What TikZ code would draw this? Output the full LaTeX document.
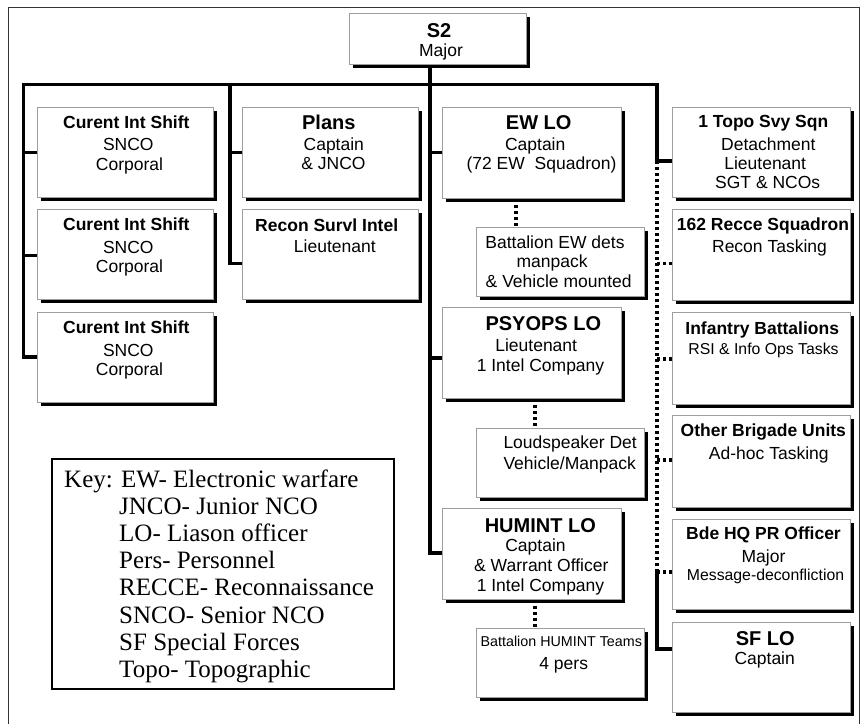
\documentclass[tikz,border=0pt]{standalone}
\usepackage{fontspec}
\setmainfont{Liberation Serif}
\newfontfamily\arialf{Liberation Sans}
\usetikzlibrary{shadows}
\pgfdeclarelayer{bg}
\pgfsetlayers{bg,main}
\begin{document}
\begin{tikzpicture}[x=1pt,y=-1pt,
  orgbox/.style={draw=black!38, line width=1pt, fill=white, inner sep=0pt, anchor=north west,
    drop shadow={shadow xshift=3pt,shadow yshift=-3pt,fill=black,opacity=1}},
  wide/.style={minimum width=176pt, minimum height=90pt},
  mid/.style={minimum width=179pt, minimum height=91pt},
  small/.style={minimum width=168pt, minimum height=69pt},
  conn/.style={line width=3.5pt, line join=miter, black},
  dotc/.style={line width=3.5pt, dash pattern=on 3pt off 3pt, black},
  tl/.style={anchor=base, inner sep=0pt, font=\arialf\fontsize{17.5}{19}\selectfont},
  tb/.style={anchor=base, inner sep=0pt, font=\arialf\bfseries\fontsize{17.5}{19}\selectfont},
  tB/.style={anchor=base, inner sep=0pt, font=\arialf\bfseries\fontsize{20}{22}\selectfont},
  ts/.style={anchor=base, inner sep=0pt, font=\arialf\fontsize{15.8}{17}\selectfont},
  tx/.style={anchor=base, inner sep=0pt, font=\arialf\fontsize{14.3}{16}\selectfont},
  keyt/.style={anchor=base west, inner sep=0pt, font=\fontsize{25}{27}\selectfont},
  frame/.style={draw=black!80, line width=1.5pt}
]
\useasboundingbox (0,0) rectangle (861,724);
\draw[frame] (8.5,724) -- (8.5,7.5) -- (859.5,7.5) -- (859.5,724);

% boxes
\node[orgbox, minimum width=177pt, minimum height=51pt] (s2) at (349,13) {};
\node[orgbox, wide] (cis1) at (37,107) {};
\node[orgbox, wide] (cis2) at (37,209) {};
\node[orgbox, wide] (cis3) at (37,312) {};
\node[orgbox, wide] (plans) at (242,107) {};
\node[orgbox, wide] (recon) at (242,209) {};
\node[orgbox, mid] (ewlo) at (442,107) {};
\node[orgbox, small] (batew) at (476,227) {};
\node[orgbox, mid] (psyops) at (442,307) {};
\node[orgbox, small] (loud) at (476,428) {};
\node[orgbox, mid] (humint) at (442,508) {};
\node[orgbox, small] (bathum) at (476,628) {};
\node[orgbox, minimum width=178pt, minimum height=90pt] (topo) at (672,107) {};
\node[orgbox, minimum width=178pt, minimum height=91pt] (recce) at (672,209) {};
\node[orgbox, minimum width=178pt, minimum height=92pt] (infantry) at (672,312) {};
\node[orgbox, minimum width=178pt, minimum height=92pt] (other) at (672,415) {};
\node[orgbox, minimum width=178pt, minimum height=90pt] (bdehq) at (672,519) {};
\node[orgbox, minimum width=178pt, minimum height=90pt] (sflo) at (672,622) {};
\node[draw=black, line width=2pt, inner sep=0pt, anchor=north west,
  minimum width=342pt, minimum height=230pt] (key) at (51,458) {};

% texts
\node[tB] (s2a) at (439,37) {S2};
\node[tl] (s2b) at (441,56.8) {Major};

\node[tb] (c1a) at (126.3,128) {Curent Int Shift};
\node[tl] (c1b) at (128.3,150.6) {SNCO};
\node[tl] (c1c) at (129.5,170) {Corporal};
\node[tb] (c2a) at (126.3,230.5) {Curent Int Shift};
\node[tl] (c2b) at (128.3,253) {SNCO};
\node[tl] (c2c) at (129.5,272.6) {Corporal};
\node[tb] (c3a) at (126.3,333.8) {Curent Int Shift};
\node[tl] (c3b) at (128.3,356) {SNCO};
\node[tl] (c3c) at (129.5,375.6) {Corporal};

\node[tB] (pla) at (328.8,129.7) {Plans};
\node[tl] (plb) at (333.8,150.4) {Captain};
\node[tl] (plc) at (333.5,169.4) {\& JNCO};
\node[tb] (rea) at (326.7,231.1) {Recon Survl Intel};
\node[tl] (reb) at (334.8,252.8) {Lieutenant};

\node[tB] (ewa) at (538.7,129.7) {EW LO};
\node[tl] (ewb) at (535.2,150.4) {Captain};
\node[tl] (ewc) at (541.5,169.4) {(72 EW\ \ Squadron)};
\node[tl] (bea) at (555,248.8) {Battalion EW dets};
\node[tl] (beb) at (552,267.8) {manpack};
\node[tl] (bec) at (558.7,287.1) {\& Vehicle mounted};

\node[tB] (psa) at (543.3,330.3) {PSYOPS LO};
\node[tl] (psb) at (536.2,351.8) {Lieutenant};
\node[tl] (psc) at (540.5,371.1) {1 Intel Company};
\node[tl, anchor=base west] (lda) at (503.3,448.8) {Loudspeaker Det};
\node[tl, anchor=base west] (ldb) at (503.3,469.4) {Vehicle/Manpack};

\node[tB] (hua) at (540.3,532) {HUMINT LO};
\node[tl] (hub) at (535.5,551.8) {Captain};
\node[tl] (huc) at (541.3,571.8) {\& Warrant Officer};
\node[tl] (hud) at (540.5,591.8) {1 Intel Company};
\node[tx] (bha) at (561.3,646.7) {Battalion HUMINT Teams};
\node[tl] (bhb) at (563.7,669.4) {4 pers};

\node[tb] (toa) at (763.3,127.8) {1 Topo Svy Sqn};
\node[tl] (tob) at (768.3,150.4) {Detachment};
\node[tl] (toc) at (765.2,169.4) {Lieutenant};
\node[tl] (tod) at (767.7,188.8) {SGT \& NCOs};
\node[tb] (rca) at (763,230.4) {162 Recce Squadron};
\node[tl] (rcb) at (769.5,252.8) {Recon Tasking};
\node[tb] (ina) at (762.2,334.4) {Infantry Battalions};
\node[ts] (inb) at (763.5,354.4) {RSI \& Info Ops Tasks};
\node[tb] (ota) at (763.3,436.8) {Other Brigade Units};
\node[tl] (otb) at (768.8,459.4) {Ad-hoc Tasking};
\node[tb] (bda) at (763.5,539.4) {Bde HQ PR Officer};
\node[tl] (bdb) at (763.5,562.8) {Major};
\node[ts] (bdc) at (765.5,580.4) {Message-deconfliction};
\node[tB] (sfa) at (765.3,645.3) {SF LO};
\node[tl] (sfb) at (764.7,664.4) {Captain};

\node[keyt] (k1) at (64,487.5) {Key: EW- Electronic warfare};
\node[keyt] (k2) at (119,514.6) {JNCO- Junior NCO};
\node[keyt] (k3) at (119,541.7) {LO- Liason officer};
\node[keyt] (k4) at (119,568.8) {Pers- Personnel};
\node[keyt] (k5) at (119,595.9) {RECCE- Reconnaissance};
\node[keyt] (k6) at (119,623) {SNCO- Senior NCO};
\node[keyt] (k7) at (119,650.1) {SF Special Forces};
\node[keyt] (k8) at (119,677.2) {Topo- Topographic};

% connectors
\coordinate (busL) at (23.3,84.5);
\coordinate (busR) at (657,84.5);
\coordinate (colB) at (230,84.5);
\coordinate (colC) at (430,84.5);
\coordinate (dotEnd) at (657,572);
\begin{pgfonlayer}{bg}
\draw[conn] (cis3.west |- 0,357) -| (busL) -- (busR) |- (topo.west |- 0,161);
\draw[conn] (busL |- cis1.west) -- (cis1.west);
\draw[conn] (busL |- 0,255.7) -- (cis2.west |- 0,255.7);
\draw[conn] (colB) |- (recon.west |- 0,263.3);
\draw[conn] (colB |- 0,152.7) -- (plans.west |- 0,152.7);
\draw[conn] (s2.south -| colC) |- (humint.west |- 0,553);
\draw[conn] (colC |- 0,152.7) -- (ewlo.west |- 0,152.7);
\draw[conn] (colC |- 0,358) -- (psyops.west |- 0,358);
\draw[dotc] (busR |- 0,161) -- (dotEnd);
\draw[dotc] (busR |- 0,263.3) -- (recce.west |- 0,263.3);
\draw[dotc] (busR |- 0,359) -- (infantry.west |- 0,359);
\draw[dotc] (busR |- 0,460) -- (other.west |- 0,460);
\draw[dotc] (dotEnd) -- (bdehq.west |- dotEnd);
\draw[conn] (dotEnd) |- (sflo.west |- 0,649);
\draw[dotc] (ewlo.south -| 516,0) -- (batew.north -| 516,0);
\draw[dotc] (psyops.south -| 535,0) -- (loud.north -| 535,0);
\draw[dotc] (humint.south -| 535,0) -- (bathum.north -| 535,0);
\end{pgfonlayer}
\end{tikzpicture}
\end{document}
